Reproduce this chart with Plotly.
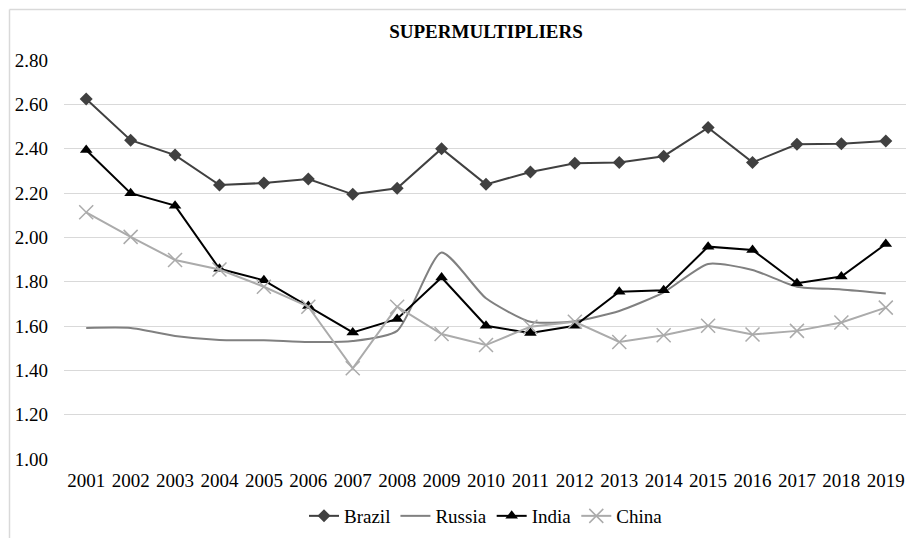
import plotly.graph_objects as go

years = [str(y) for y in range(2001, 2020)]
brazil = [2.624, 2.438, 2.371, 2.236, 2.245, 2.263, 2.194, 2.221, 2.400, 2.239,
          2.295, 2.334, 2.338, 2.366, 2.495, 2.338, 2.420, 2.422, 2.435]
russia = [1.591, 1.591, 1.555, 1.537, 1.536, 1.528, 1.532, 1.578, 1.932, 1.725,
          1.619, 1.622, 1.668, 1.752, 1.880, 1.853, 1.777, 1.765, 1.747]
india = [2.394, 2.199, 2.143, 1.858, 1.806, 1.690, 1.571, 1.632, 1.819, 1.601,
         1.568, 1.601, 1.755, 1.761, 1.958, 1.943, 1.793, 1.823, 1.970]
china = [2.113, 2.002, 1.898, 1.855, 1.777, 1.687, 1.409, 1.687, 1.564, 1.514,
         1.597, 1.619, 1.528, 1.558, 1.601, 1.562, 1.578, 1.616, 1.683]
yticks = [1.0, 1.2, 1.4, 1.6, 1.8, 2.0, 2.2, 2.4, 2.6, 2.8]
title_text = "SUPERMULTIPLIERS"

FONT = "Liberation Serif"

# the page body has an 8px margin; figure sized to fit the window
W, H = 906, 530
L, R, T, B = 56, 6, 52, 79
PW, PH = W - L - R, H - T - B

fig = go.Figure()
fig.add_trace(go.Scatter(x=years, y=brazil, name="Brazil", mode="lines+markers",
                         line=dict(color="#404040", width=2),
                         marker=dict(symbol="diamond", size=10, color="#404040")))
fig.add_trace(go.Scatter(x=years, y=russia, name="Russia", mode="lines",
                         line=dict(color="#808080", width=2, shape="spline", smoothing=0.6)))
fig.add_trace(go.Scatter(x=years, y=india, name="India", mode="lines+markers",
                         line=dict(color="#000000", width=2),
                         marker=dict(symbol="triangle-up", size=11, color="#000000")))
fig.add_trace(go.Scatter(x=years, y=china, name="China", mode="lines+markers",
                         line=dict(color="#ababab", width=2),
                         marker=dict(symbol="x-thin-open", size=14,
                                     line=dict(color="#ababab", width=1.5))))

# chart border (top and left edges visible)
bx = (1.5 - L) / PW
by = (PH + T - 1.5) / PH
fig.add_shape(type="line", xref="paper", yref="paper",
              x0=bx, x1=(W - L) / PW, y0=by, y1=by,
              line=dict(color="#d9d9d9", width=1.5))
fig.add_shape(type="line", xref="paper", yref="paper",
              x0=bx, x1=bx, y0=by, y1=-B / PH,
              line=dict(color="#d9d9d9", width=1.5))

fig.update_layout(
    width=W, height=H,
    margin=dict(l=L, r=R, t=T, b=B, autoexpand=False),
    paper_bgcolor="white", plot_bgcolor="white",
    font=dict(family=FONT, size=19, color="#000000"),
    title=dict(text="<b>" + title_text + "</b>", x=478 / W, xanchor="center",
               y=1 - 23 / H, yanchor="middle",
               font=dict(family=FONT, size=19, color="#000000")),
    showlegend=True,
    legend=dict(orientation="h", x=0.5, xanchor="center", y=(PH - (508 - T)) / PH,
                yanchor="middle", font=dict(family=FONT, size=19),
                itemwidth=30, tracegroupgap=0),
    xaxis=dict(type="category", range=[-0.5, 18.5], showgrid=False, showline=False,
               zeroline=False, automargin=False,
               ticks="", ticklabelstandoff=8, tickfont=dict(family=FONT, size=19)),
    yaxis=dict(range=[1.0, 2.8], tickvals=yticks, tickformat=".2f", automargin=False,
               showgrid=True, gridcolor="#d9d9d9", gridwidth=1.2, zeroline=False,
               showline=False, ticks="", ticklabelstandoff=15,
               tickfont=dict(family=FONT, size=19)),
)

fig.write_html("out.html")
